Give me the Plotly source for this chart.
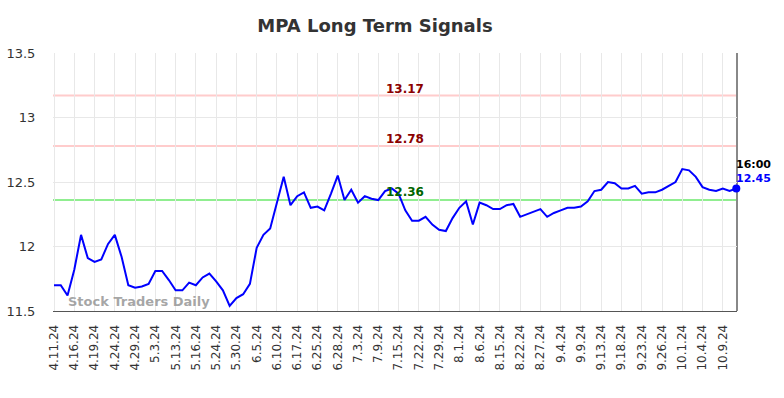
import plotly.graph_objects as go

tick_labels = ["4.11.24", "4.16.24", "4.19.24", "4.24.24", "4.29.24", "5.3.24", "5.13.24",
               "5.16.24", "5.24.24", "5.30.24", "6.5.24", "6.10.24", "6.17.24", "6.25.24",
               "6.28.24", "7.3.24", "7.9.24", "7.15.24", "7.22.24", "7.29.24", "8.1.24",
               "8.6.24", "8.15.24", "8.22.24", "8.27.24", "9.4.24", "9.9.24", "9.13.24",
               "9.18.24", "9.23.24", "9.26.24", "10.1.24", "10.4.24", "10.9.24"]

prices = [11.70, 11.70, 11.62, 11.82, 12.09, 11.91, 11.88, 11.90, 12.02, 12.09,
          11.92, 11.70, 11.68, 11.69, 11.71, 11.81, 11.81, 11.74, 11.66, 11.66,
          11.72, 11.70, 11.76, 11.79, 11.73, 11.66, 11.54, 11.60, 11.63, 11.71,
          11.99, 12.09, 12.14, 12.34, 12.54, 12.32, 12.39, 12.42, 12.30, 12.31,
          12.28, 12.41, 12.55, 12.36, 12.44, 12.34, 12.39, 12.37, 12.36, 12.43,
          12.45, 12.41, 12.28, 12.20, 12.20, 12.23, 12.17, 12.13, 12.12, 12.22,
          12.30, 12.35, 12.17, 12.34, 12.32, 12.29, 12.29, 12.32, 12.33, 12.23,
          12.25, 12.27, 12.29, 12.23, 12.26, 12.28, 12.30, 12.30, 12.31, 12.35,
          12.43, 12.44, 12.50, 12.49, 12.45, 12.45, 12.47, 12.41, 12.42, 12.42,
          12.44, 12.47, 12.50, 12.60, 12.59, 12.54, 12.46, 12.44, 12.43, 12.45,
          12.43, 12.45]

signal_upper = 13.17
signal_mid = 12.78
signal_lower = 12.36
last_time = "16:00"

x_idx = list(range(len(prices)))
tick_pos = x_idx[::3][:len(tick_labels)]

fig = go.Figure()

fig.add_hline(y=signal_upper, line=dict(color="#ffcccc", width=2), layer="below")
fig.add_hline(y=signal_mid, line=dict(color="#ffcccc", width=2), layer="below")
fig.add_hline(y=signal_lower, line=dict(color="#90ee90", width=2), layer="below")

fig.add_trace(go.Scatter(x=x_idx, y=prices, mode="lines",
                         line=dict(color="#0000ff", width=2), hoverinfo="skip", cliponaxis=False))
fig.add_trace(go.Scatter(x=[x_idx[-1]], y=[prices[-1]], mode="markers",
                         marker=dict(color="#0000ff", size=8), hoverinfo="skip", cliponaxis=False))

mid_x = 52
fig.add_annotation(x=mid_x, y=signal_upper, text=f"<b>{signal_upper:.2f}</b>", showarrow=False,
                   yshift=7, font=dict(color="#8b0000", size=12, family="DejaVu Sans"))
fig.add_annotation(x=mid_x, y=signal_mid, text=f"<b>{signal_mid:.2f}</b>", showarrow=False,
                   yshift=7, font=dict(color="#8b0000", size=12, family="DejaVu Sans"))
fig.add_annotation(x=mid_x, y=signal_lower, text=f"<b>{signal_lower:.2f}</b>", showarrow=False,
                   yshift=8, font=dict(color="#006400", size=12, family="DejaVu Sans"))

fig.add_annotation(x=x_idx[-1], y=prices[-1], text=f"<b>{last_time}</b>", showarrow=False,
                   xanchor="left", xshift=-2, yshift=24,
                   font=dict(color="#000000", size=11, family="DejaVu Sans"))
fig.add_annotation(x=x_idx[-1], y=prices[-1], text=f"<b>{prices[-1]:.2f}</b>", showarrow=False,
                   xanchor="left", xshift=-2, yshift=10,
                   font=dict(color="#0000ff", size=11, family="DejaVu Sans"))

fig.add_annotation(xref="paper", yref="paper", x=0.019, y=0.0, xanchor="left", yanchor="bottom",
                   text="<b>Stock Traders Daily</b>", showarrow=False, yshift=0,
                   font=dict(color="rgba(150,150,150,0.85)", size=13, family="DejaVu Sans"))

fig.add_shape(type="line", xref="paper", yref="paper", x0=1, x1=1, y0=0, y1=1,
              line=dict(color="#888888", width=2), layer="below")

fig.update_layout(
    width=784, height=398,
    margin=dict(l=53, r=47, t=53, b=87, autoexpand=False),
    paper_bgcolor="white", plot_bgcolor="white",
    showlegend=False,
    title=dict(text="<b>MPA Long Term Signals</b>", x=375 / 784, xanchor="center",
               y=1 - 26 / 398, yanchor="middle",
               font=dict(size=18, color="#333333", family="DejaVu Sans")),
    font=dict(family="DejaVu Sans", color="#333333"),
)
fig.update_xaxes(range=[-0.15, 101.1], tickmode="array", tickvals=tick_pos, ticktext=tick_labels,
                 tickangle=-90, showgrid=True, gridcolor="#e8e8e8", gridwidth=1, automargin=False,
                 zeroline=False, showline=True, linecolor="#555555", linewidth=1,
                 ticks="outside", ticklen=8, tickcolor="white",
                 tickfont=dict(size=12, color="#333333"))
fig.update_yaxes(range=[11.5, 13.5], tickmode="array", tickvals=[11.5, 12, 12.5, 13, 13.5],
                 ticktext=["11.5", "12", "12.5", "13", "13.5"], automargin=False,
                 showgrid=True, gridcolor="#e8e8e8", gridwidth=1, zeroline=False,
                 ticks="outside", ticklen=14, tickcolor="white",
                 tickfont=dict(size=13, color="#333333"))

fig.write_html("out.html", config={"displayModeBar": False},
               post_script="document.body.style.margin='0';")
